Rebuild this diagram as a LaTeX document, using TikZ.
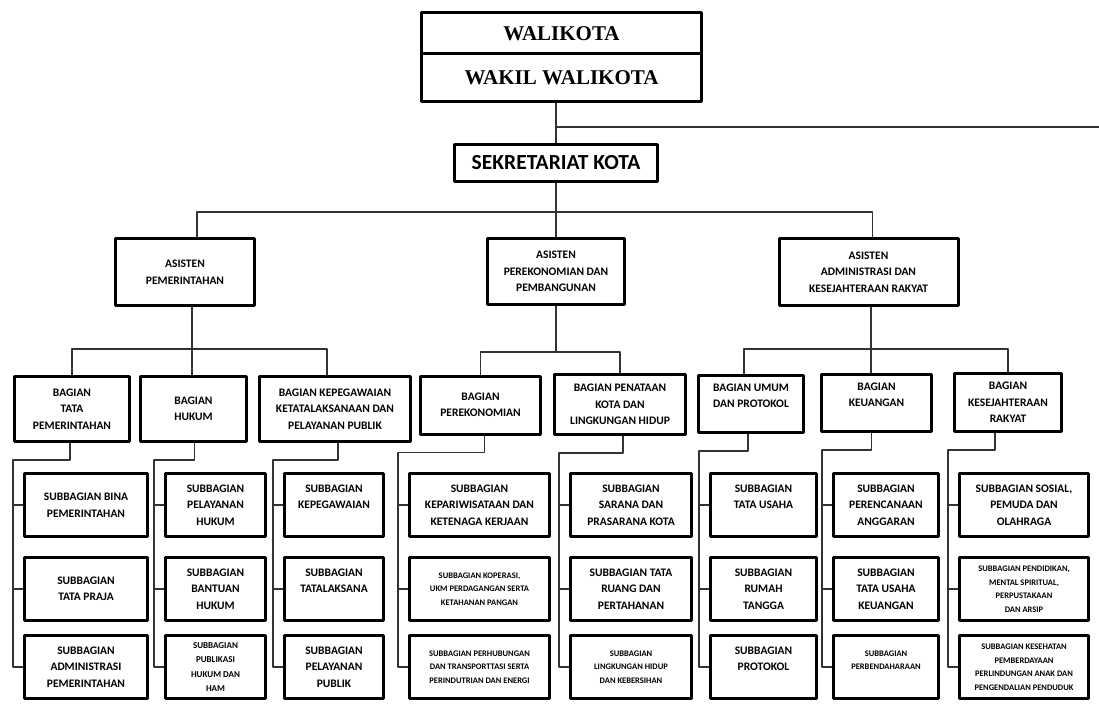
\documentclass[tikz,border=0pt]{standalone}
\usepackage{fontspec}
\setmainfont{Carlito}
\newfontfamily\serifjudul{Liberation Serif}
\usetikzlibrary{calc}

\begin{document}
\begin{tikzpicture}[x=1pt,y=-1pt,line join=round,
  kotak/.style={draw,line width=3pt,align=center,inner sep=1pt,font=\bfseries\fontsize{11.5}{16.5}\selectfont},
  kecil/.style={font=\bfseries\fontsize{8.5}{13.5}\selectfont},
  garis/.style={draw=black!80,line width=1.2pt},
  subA/.style={kotak,minimum width=123,minimum height=63},
  subB/.style={kotak,minimum width=100,minimum height=63},
  subC/.style={kotak,minimum width=99,minimum height=63},
  subD/.style={kotak,minimum width=140,minimum height=63},
  subE/.style={kotak,minimum width=121,minimum height=63},
  subF/.style={kotak,minimum width=106,minimum height=63},
  subG/.style={kotak,minimum width=105,minimum height=63},
  subH/.style={kotak,minimum width=129,minimum height=63}]

\useasboundingbox (0,0) rectangle (1099,714);
\def\ra{505} \def\rb{589} \def\rc{667}

% pimpinan
\node[kotak,minimum width=280,minimum height=41,font=\serifjudul\bfseries\fontsize{21}{24}\selectfont] (wali) at (561.5,33.5) {WALIKOTA};
\node[kotak,minimum width=280,minimum height=48,font=\serifjudul\bfseries\fontsize{21}{24}\selectfont] (wakil) at (561.5,78) {WAKIL WALIKOTA};
\node[kotak,minimum width=203,minimum height=37,font=\bfseries\fontsize{21.5}{24}\selectfont] (sekda) at (556,163) {SEKRETARIAT KOTA};

\coordinate (kanan) at (1099,127);
\draw[garis] (wakil.south -| sekda.north) -- (sekda.north);
\draw[garis] (sekda.north |- kanan) -- (kanan);

% asisten
\node[kotak,minimum width=139,minimum height=67] (asPem) at (185,272) {ASISTEN\\PEMERINTAHAN};
\node[kotak,minimum width=137,minimum height=66] (asEkon) at (556,271.5) {ASISTEN\\PEREKONOMIAN DAN\\PEMBANGUNAN};
\node[kotak,minimum width=179,minimum height=67] (asAdm) at (868.5,272) {ASISTEN\\ADMINISTRASI DAN\\KESEJAHTERAAN RAKYAT};

\coordinate (busSekda) at (556,212);
\draw[garis] (sekda.south) -- (asEkon.north);
\draw[garis] ([xshift=12pt]asPem.north) |- (busSekda) -| ([xshift=4pt]asAdm.north);

% bagian
\node[kotak,minimum width=115,minimum height=65] (tata) at (72,409) {BAGIAN\\TATA\\PEMERINTAHAN};
\node[kotak,minimum width=106,minimum height=65] (hukum) at (193.5,409) {BAGIAN\\HUKUM};
\node[kotak,minimum width=151,minimum height=65] (kepeg) at (335,409) {BAGIAN KEPEGAWAIAN\\KETATALAKSANAAN DAN\\PELAYANAN PUBLIK};
\node[kotak,minimum width=120,minimum height=58] (ekon) at (480.5,405) {BAGIAN\\PEREKONOMIAN};
\node[kotak,minimum width=131,minimum height=60] (kota) at (620,404.5) {BAGIAN PENATAAN\\KOTA DAN\\LINGKUNGAN HIDUP};
\node[kotak,minimum width=105,minimum height=57] (umum) at (751,404) {BAGIAN UMUM\\DAN PROTOKOL\\~};
\node[kotak,minimum width=110,minimum height=57] (keu) at (876.5,403) {BAGIAN\\KEUANGAN\\~};
\node[kotak,minimum width=107,minimum height=58] (kesra) at (1008,402.5) {BAGIAN\\KESEJAHTERAAN\\RAKYAT};

\coordinate (busPem) at (192,349);
\draw[garis] (asPem.south -| busPem) -- (hukum.north -| busPem);
\draw[garis] (tata.north) |- (busPem) -| ([xshift=-8pt]kepeg.north);

\coordinate (busEkon) at (556,352);
\draw[garis] (asEkon.south) -- (busEkon);
\draw[garis] (ekon.north) |- (busEkon) -| (kota.north);

\coordinate (busAdm) at (871,349);
\draw[garis] (asAdm.south -| busAdm) -- (keu.north -| busAdm);
\draw[garis] ([xshift=-7pt]umum.north) |- (busAdm) -| (kesra.north);

% subbagian
\node[subA] (tata1) at (86,\ra) {SUBBAGIAN BINA\\PEMERINTAHAN};
\node[subA] (tata2) at (86,\rb) {SUBBAGIAN\\TATA PRAJA};
\node[subA] (tata3) at (86,\rc) {SUBBAGIAN\\ADMINISTRASI\\PEMERINTAHAN};

\node[subB] (hukum1) at (215.5,\ra) {SUBBAGIAN\\PELAYANAN\\HUKUM};
\node[subB] (hukum2) at (215.5,\rb) {SUBBAGIAN\\BANTUAN\\HUKUM};
\node[subB,font=\bfseries\fontsize{9}{14.5}\selectfont] (hukum3) at (215.5,\rc) {SUBBAGIAN\\PUBLIKASI\\HUKUM DAN\\HAM};

\node[subC] (kepeg1) at (334,\ra) {SUBBAGIAN\\KEPEGAWAIAN\\~};
\node[subC] (kepeg2) at (334,\rb) {SUBBAGIAN\\TATALAKSANA\\~};
\node[subC] (kepeg3) at (334,\rc) {SUBBAGIAN\\PELAYANAN\\PUBLIK};

\node[subD] (ekon1) at (479.5,\ra) {SUBBAGIAN\\KEPARIWISATAAN DAN\\KETENAGA KERJAAN};
\node[subD,kecil] (ekon2) at (479.5,\rb) {SUBBAGIAN KOPERASI,\\UKM PERDAGANGAN SERTA\\KETAHANAN PANGAN};
\node[subD,kecil] (ekon3) at (479.5,\rc) {SUBBAGIAN PERHUBUNGAN\\DAN TRANSPORTTASI SERTA\\PERINDUTRIAN DAN ENERGI};

\node[subE] (kota1) at (631,\ra) {SUBBAGIAN\\SARANA DAN\\PRASARANA KOTA};
\node[subE] (kota2) at (631,\rb) {SUBBAGIAN TATA\\RUANG DAN\\PERTAHANAN};
\node[subE,kecil] (kota3) at (631,\rc) {SUBBAGIAN\\LINGKUNGAN HIDUP\\DAN KEBERSIHAN};

\node[subF] (umum1) at (763.5,\ra) {SUBBAGIAN\\TATA USAHA\\~};
\node[subF] (umum2) at (763.5,\rb) {SUBBAGIAN\\RUMAH\\TANGGA};
\node[subF] (umum3) at (763.5,\rc) {SUBBAGIAN\\PROTOKOL\\~};

\node[subG] (keu1) at (886,\ra) {SUBBAGIAN\\PERENCANAAN\\ANGGARAN};
\node[subG] (keu2) at (886,\rb) {SUBBAGIAN\\TATA USAHA\\KEUANGAN};
\node[subG,kecil] (keu3) at (886,\rc) {SUBBAGIAN\\PERBENDAHARAAN\\~};

\node[subH] (kesra1) at (1024,\ra) {SUBBAGIAN SOSIAL,\\PEMUDA DAN\\OLAHRAGA};
\node[subH,kecil] (kesra2) at (1024,\rb) {SUBBAGIAN PENDIDIKAN,\\MENTAL SPIRITUAL,\\PERPUSTAKAAN\\DAN ARSIP};
\node[subH,kecil] (kesra3) at (1024,\rc) {SUBBAGIAN KESEHATAN\\PEMBERDAYAAN\\PERLINDUNGAN ANAK DAN\\PENGENDALIAN PENDUDUK};

\foreach \bag/\dx in {tata/-2,hukum/1,kepeg/3,ekon/4,kota/3,umum/-3,keu/-5,kesra/-13}{
  \draw[garis] ([xshift=\dx pt]\bag.south) -- ++(0,17) -| ([xshift=-10pt]\bag1.west) |- (\bag3.west);
  \draw[garis] ([xshift=-10pt]\bag1.west) -- (\bag1.west);
  \draw[garis] ([xshift=-10pt]\bag2.west) -- (\bag2.west);
}
\end{tikzpicture}
\end{document}
